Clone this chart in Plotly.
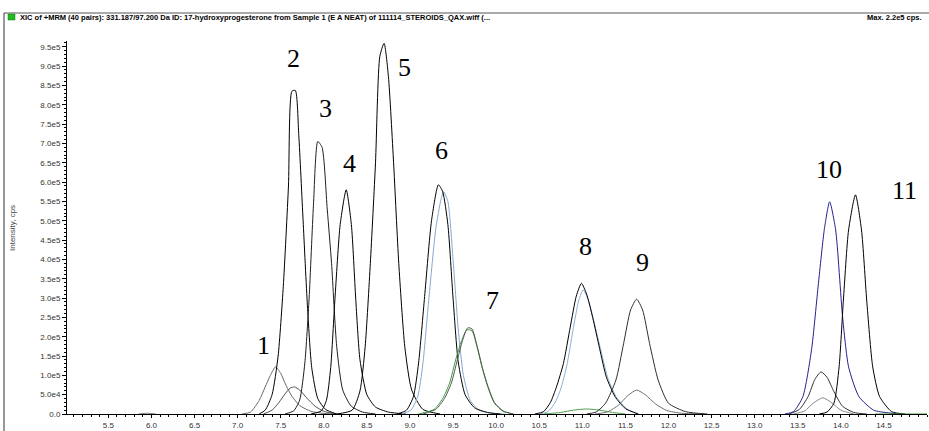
import plotly.graph_objects as go

# ---------------- data (time in min, intensity in cps) ----------------
t_blip = [5.85, 5.95, 6.05]
i_blip = [0, 2000, 0]

t_p1 = [7.05, 7.15, 7.25, 7.32, 7.38, 7.44, 7.50, 7.56, 7.63, 7.72, 7.85, 8.00, 8.20]
i_p1 = [0, 5000, 35000, 70000, 100000, 122000, 105000, 75000, 46000, 22000, 7000, 1500, 0]

t_p1b = [7.30, 7.40, 7.48, 7.55, 7.61, 7.66, 7.72, 7.80, 7.90, 8.00, 8.15]
i_p1b = [0, 10000, 30000, 52000, 67000, 70000, 62000, 42000, 20000, 7000, 0]

t_p2 = [7.25, 7.32, 7.40, 7.47, 7.53, 7.59, 7.63, 7.67, 7.71, 7.76, 7.81, 7.86, 7.93, 8.02, 8.15]
i_p2 = [0, 10000, 50000, 150000, 330000, 590000, 835000, 837000, 720000, 500000, 280000, 120000, 40000, 12000, 0]

t_p3 = [7.55, 7.65, 7.72, 7.78, 7.83, 7.88, 7.93, 7.98, 8.04, 8.09, 8.15, 8.22, 8.32, 8.45, 8.60]
i_p3 = [0, 8000, 36000, 132000, 300000, 540000, 705000, 690000, 530000, 390000, 174000, 62000, 20000, 5000, 0]

t_p4 = [7.85, 7.97, 8.03, 8.08, 8.13, 8.19, 8.26, 8.32, 8.37, 8.42, 8.50, 8.60, 8.75, 8.95]
i_p4 = [0, 8000, 35000, 120000, 300000, 490000, 580000, 490000, 300000, 140000, 50000, 18000, 5000, 0]

t_p5 = [8.15, 8.33, 8.42, 8.48, 8.54, 8.60, 8.65, 8.70, 8.75, 8.81, 8.87, 8.94, 9.02, 9.15, 9.35]
i_p5 = [0, 10000, 60000, 174000, 390000, 650000, 925000, 959000, 873000, 650000, 390000, 174000, 62000, 12000, 0]

t_p6 = [8.85, 8.96, 9.04, 9.10, 9.17, 9.25, 9.33, 9.38, 9.44, 9.50, 9.56, 9.64, 9.75, 9.90, 10.05]
i_p6 = [0, 10000, 45000, 132000, 304000, 500000, 593000, 575000, 490000, 300000, 135000, 50000, 16000, 4000, 0]

t_p6b = [8.90, 9.01, 9.09, 9.15, 9.22, 9.30, 9.36, 9.39, 9.44, 9.50, 9.56, 9.62, 9.70, 9.80, 9.95, 10.10]
i_p6b = [0, 10000, 45000, 130000, 300000, 480000, 555000, 575000, 550000, 400000, 220000, 100000, 35000, 10000, 2000, 0]

t_p7g = [9.10, 9.28, 9.38, 9.46, 9.53, 9.60, 9.66, 9.72, 9.78, 9.84, 9.90, 9.98, 10.08, 10.20]
i_p7g = [0, 12000, 40000, 80000, 140000, 190000, 218000, 215000, 172000, 118000, 72000, 28000, 7000, 0]

t_p7 = [9.15, 9.30, 9.40, 9.48, 9.55, 9.61, 9.67, 9.72, 9.78, 9.84, 9.90, 9.98, 10.08, 10.20]
i_p7 = [0, 12000, 40000, 80000, 140000, 190000, 223000, 220000, 175000, 120000, 75000, 30000, 8000, 0]

t_p8 = [10.45, 10.55, 10.63, 10.70, 10.78, 10.86, 10.93, 10.99, 11.05, 11.12, 11.20, 11.28, 11.38, 11.50, 11.65]
i_p8 = [0, 6000, 30000, 70000, 130000, 225000, 305000, 338000, 310000, 250000, 170000, 95000, 45000, 14000, 0]

t_p8b = [10.50, 10.60, 10.68, 10.75, 10.82, 10.89, 10.96, 11.01, 11.07, 11.14, 11.22, 11.30, 11.40, 11.52, 11.65]
i_p8b = [0, 6000, 28000, 65000, 125000, 215000, 295000, 321000, 295000, 235000, 160000, 90000, 42000, 13000, 0]

t_p8g = [10.55, 10.75, 10.90, 11.05, 11.20, 11.35, 11.50]
i_p8g = [0, 4000, 10000, 13000, 10000, 4000, 0]

t_p9 = [11.05, 11.16, 11.27, 11.39, 11.48, 11.56, 11.63, 11.70, 11.78, 11.88, 12.00, 12.20, 12.45]
i_p9 = [0, 5000, 28000, 88000, 183000, 269000, 297000, 269000, 183000, 88000, 28000, 6000, 0]

t_p9b = [11.15, 11.30, 11.42, 11.53, 11.63, 11.73, 11.85, 11.98, 12.15, 12.40]
i_p9b = [0, 6000, 23000, 48000, 62000, 50000, 26000, 9000, 2000, 0]

t_p10 = [13.35, 13.45, 13.56, 13.66, 13.74, 13.81, 13.87, 13.94, 14.02, 14.09, 14.21, 14.38, 14.55, 14.70]
i_p10 = [0, 6000, 45000, 166000, 338000, 480000, 549000, 476000, 252000, 122000, 45000, 10000, 3000, 0]

t_p10b = [13.40, 13.52, 13.62, 13.70, 13.77, 13.84, 13.92, 14.02, 14.15, 14.30]
i_p10b = [0, 12000, 45000, 90000, 109000, 95000, 58000, 20000, 4000, 0]

t_p10c = [13.45, 13.58, 13.68, 13.79, 13.90, 14.00, 14.15]
i_p10c = [0, 8000, 28000, 42000, 28000, 10000, 0]

t_p11 = [13.75, 13.84, 13.92, 13.98, 14.03, 14.09, 14.17, 14.24, 14.30, 14.37, 14.45, 14.59, 14.75]
i_p11 = [0, 5000, 28000, 122000, 295000, 476000, 567000, 476000, 295000, 122000, 45000, 6000, 0]

t_base_g = [14.40, 15.00]
i_base_g = [0, 0]

# peak numbers
peak_labels = ["1", "2", "3", "4", "5", "6", "7", "8", "9", "10", "11"]

# axis ticks
x_ticks = [5.5, 6.0, 6.5, 7.0, 7.5, 8.0, 8.5, 9.0, 9.5, 10.0, 10.5, 11.0, 11.5,
           12.0, 12.5, 13.0, 13.5, 14.0, 14.5]
x_ticktext = ["5.5", "6.0", "6.5", "7.0", "7.5", "8.0", "8.5", "9.0", "9.5", "10.0",
              "10.5", "11.0", "11.5", "12.0", "12.5", "13.0", "13.5", "14.0", "14.5"]
y_ticks = [0, 50000, 100000, 150000, 200000, 250000, 300000, 350000, 400000, 450000,
           500000, 550000, 600000, 650000, 700000, 750000, 800000, 850000, 900000, 950000]
y_ticktext = ["0.0", "5.0e4", "1.0e5", "1.5e5", "2.0e5", "2.5e5", "3.0e5", "3.5e5", "4.0e5",
              "4.5e5", "5.0e5", "5.5e5", "6.0e5", "6.5e5", "7.0e5", "7.5e5", "8.0e5",
              "8.5e5", "9.0e5", "9.5e5"]

header_text = ("XIC of +MRM (40 pairs): 331.187/97.200 Da ID: 17-hydroxyprogesterone from "
               "Sample 1 (E A NEAT) of 111114_STEROIDS_QAX.wiff (...")
max_text = "Max. 2.2e5 cps."

# ---------------- figure ----------------
W, H = 929, 431
ML, MR, MT, MB = 67, 2, 41, 17
PW, PH = W - ML - MR, H - MT - MB


def px(xp):
    return (xp - ML) / PW


def py(yp):
    return (H - MB - yp) / PH


traces = [
    (t_blip, i_blip, "#808080"),
    (t_p1, i_p1, "#6a6a6a"),
    (t_p1b, i_p1b, "#505050"),
    (t_p2, i_p2, "#000000"),
    (t_p3, i_p3, "#202020"),
    (t_p4, i_p4, "#000000"),
    (t_p5, i_p5, "#000000"),
    (t_p6b, i_p6b, "#86a8d0"),
    (t_p6, i_p6, "#000000"),
    (t_p7g, i_p7g, "#3a9a3a"),
    (t_p7, i_p7, "#555555"),
    (t_p8g, i_p8g, "#4aa04a"),
    (t_p8b, i_p8b, "#8db0d8"),
    (t_p8, i_p8, "#000000"),
    (t_p9b, i_p9b, "#707070"),
    (t_p9, i_p9, "#303030"),
    (t_p10c, i_p10c, "#888888"),
    (t_p10b, i_p10b, "#303030"),
    (t_p10, i_p10, "#22228c"),
    (t_p11, i_p11, "#000000"),
    (t_base_g, i_base_g, "#3a9a3a"),
]

fig = go.Figure()
for tx, iy, col in traces:
    fig.add_trace(go.Scatter(x=tx, y=iy, mode="lines",
                             line=dict(color=col, width=1, shape="spline", smoothing=0.6),
                             hoverinfo="skip", showlegend=False))

# small arrow marker at 5.0e4 on the y axis
fig.add_trace(go.Scatter(x=[4.998], y=[y_ticks[1]], mode="markers", cliponaxis=False,
                         marker=dict(symbol="triangle-right", size=6, color="black"),
                         hoverinfo="skip", showlegend=False))

# peak number labels (pixel positions)
label_px = [(263, 345), (293, 58), (325, 108), (349, 163), (404, 67), (441, 150),
            (492, 300), (585, 247), (642, 262), (829, 169), (904, 190)]
for txt, (lx, ly) in zip(peak_labels, label_px):
    fig.add_annotation(x=px(lx), y=py(ly), xref="paper", yref="paper", text=txt,
                       showarrow=False, xanchor="center", yanchor="middle",
                       font=dict(family="Liberation Serif, DejaVu Serif, serif", size=26, color="black"))

# header
fig.add_annotation(x=px(18), y=py(17.5), xref="paper", yref="paper", text="<b>" + header_text + "</b>",
                   showarrow=False, xanchor="left", yanchor="middle",
                   font=dict(family="Liberation Sans, Arial, sans-serif", size=7.5, color="black"))
fig.add_annotation(x=px(865), y=py(17.5), xref="paper", yref="paper", text="<b>" + max_text + "</b>",
                   showarrow=False, xanchor="left", yanchor="middle",
                   font=dict(family="Liberation Sans, Arial, sans-serif", size=7.5, color="black"))

# y title and x title
fig.add_annotation(x=px(12), y=py(228), xref="paper", yref="paper", text="Intensity, cps",
                   showarrow=False, textangle=-90, xanchor="center", yanchor="middle",
                   font=dict(family="Liberation Sans, Arial, sans-serif", size=8, color="#444444"))
fig.add_annotation(x=px(497), y=py(427), xref="paper", yref="paper", text="Time, min",
                   showarrow=False, xanchor="center", yanchor="top",
                   font=dict(family="Liberation Sans, Arial, sans-serif", size=8, color="#333333"))

# frame lines & green box
fig.add_shape(type="line", xref="paper", yref="paper", x0=px(4), x1=px(929), y0=py(13), y1=py(13),
              line=dict(color="#555555", width=1))
fig.add_shape(type="line", xref="paper", yref="paper", x0=px(4), x1=px(4), y0=py(13), y1=py(431),
              line=dict(color="#333333", width=1))
fig.add_shape(type="rect", xref="paper", yref="paper", x0=px(8), x1=px(15), y0=py(20), y1=py(14),
              fillcolor="#22bb22", line=dict(color="#117711", width=0.5))

fig.update_layout(
    width=W, height=H,
    margin=dict(l=ML, r=MR, t=MT, b=MB, pad=0),
    paper_bgcolor="white", plot_bgcolor="white",
    font=dict(family="Liberation Sans, Arial, sans-serif", size=8, color="#333333"),
    xaxis=dict(range=[5.02, 15.0], tickmode="array", tickvals=x_ticks, ticktext=x_ticktext,
               showgrid=False, zeroline=False, showline=True, linecolor="black", linewidth=1,
               ticks="outside", ticklen=3, tickcolor="black", tickfont=dict(size=8, color="#333333"),
               minor=dict(dtick=0.1, tick0=0, ticks="outside", ticklen=2, tickcolor="black")),
    yaxis=dict(range=[0, 965000], tickmode="array", tickvals=y_ticks, ticktext=y_ticktext,
               showgrid=False, zeroline=False, showline=True, linecolor="black", linewidth=1,
               ticks="outside", ticklen=4, tickcolor="black", tickfont=dict(size=8, color="#333333"),
               minor=dict(dtick=10000, tick0=0, ticks="outside", ticklen=2, tickcolor="black")),
)

fig.write_html("out.html", config={"displayModeBar": False},
               post_script="document.body.style.margin='0px';")
